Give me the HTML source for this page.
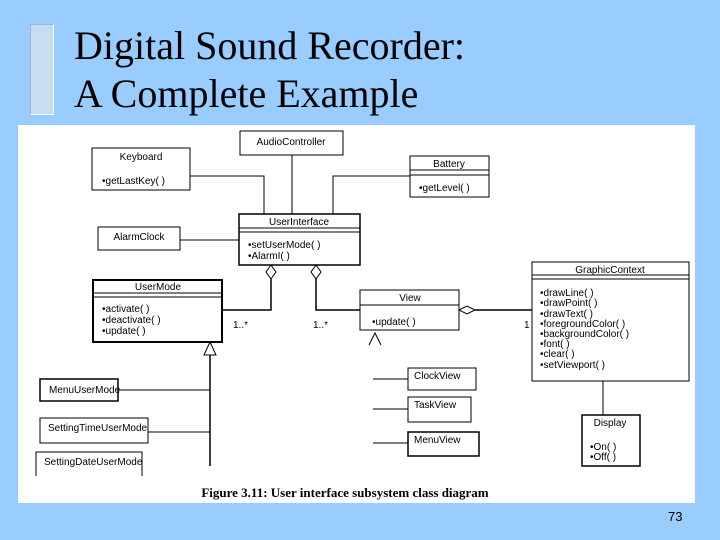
<!DOCTYPE html>
<html><head><meta charset="utf-8"><style>
body{margin:0;width:720px;height:540px;background:#99ccff;overflow:hidden;position:relative;font-family:"Liberation Sans",sans-serif}
.t{position:absolute;left:74px;font-family:"Liberation Serif",serif;font-size:40px;color:#000;line-height:48px;white-space:nowrap}
</style></head><body>
<div style="position:absolute;left:30px;top:24px;width:22px;height:89px;background:#c6ddf3;border:1px solid #9fb4cc;border-bottom-color:#fff;border-right-color:#fff"></div>
<div class="t" style="top:22px">Digital Sound Recorder:</div>
<div class="t" style="top:70px">A Complete Example</div>
<svg style="position:absolute;left:0;top:0" width="720" height="540" font-family="Liberation Sans, sans-serif" font-size="10">
<rect x="18" y="125" width="677" height="378" fill="#fff"/>
<g fill="none" stroke="#000" stroke-width="1">
<rect x="240" y="131" width="103" height="24"/>
<rect x="92" y="148" width="98" height="42"/>
<rect x="410" y="156" width="79" height="41"/><line x1="410" y1="170" x2="489" y2="170"/><line x1="410" y1="175" x2="489" y2="175"/>
<rect x="239" y="214" width="121" height="51" stroke-width="1.5"/><line x1="239" y1="228" x2="360" y2="228"/><line x1="239" y1="232" x2="360" y2="232"/>
<rect x="98" y="227" width="82" height="23"/>
<polyline points="190,176 264,176 264,214"/>
<line x1="292" y1="155" x2="292" y2="214"/>
<polyline points="410,176 333,176 333,214"/>
<line x1="180" y1="240" x2="239" y2="240"/>
<polygon points="271,265 276,272 271,279 266,272"/>
<polygon points="316,265 321,272 316,279 311,272"/>
<rect x="93" y="280" width="129" height="62" stroke-width="2"/><line x1="93" y1="293" x2="222" y2="293"/><line x1="93" y1="297" x2="222" y2="297"/>
<polyline points="222,310 271,310 271,279" stroke-width="1.5"/>
<polyline points="316,279 316,310 360,310" stroke-width="1.5"/>
<rect x="360" y="290" width="99" height="40"/><line x1="360" y1="305" x2="459" y2="305"/>
<polygon points="459,310 467,306 475,310 467,314"/>
<line x1="475" y1="310" x2="532" y2="310" stroke-width="1.5"/>
<rect x="532" y="262" width="157" height="119"/><line x1="532" y1="275" x2="689" y2="275"/><line x1="532" y1="279" x2="689" y2="279"/>
<polygon points="210,342 216,355 204,355"/>
<line x1="210" y1="355" x2="210" y2="466" stroke-width="1.5"/>
<rect x="40" y="379" width="78" height="22" stroke-width="1.5"/><line x1="118" y1="390" x2="210" y2="390"/>
<rect x="40" y="418" width="108" height="25"/><line x1="148" y1="432" x2="210" y2="432"/>
<polyline points="36,476 36,452 142,452 142,476"/>
<polyline points="369,345 375,333 381,345"/>
<rect x="408" y="368" width="68" height="22"/><line x1="373" y1="379" x2="408" y2="379"/>
<rect x="408" y="397" width="63" height="25"/><line x1="373" y1="409" x2="408" y2="409"/>
<rect x="408" y="432" width="71" height="24" stroke-width="1.5"/><line x1="373" y1="443" x2="408" y2="443"/>
<line x1="603" y1="381" x2="603" y2="415"/>
<rect x="582" y="415" width="58" height="51" stroke-width="1.5"/>
</g>
<g fill="#000">
<text x="291" y="145" text-anchor="middle">AudioController</text>
<text x="141" y="160" text-anchor="middle">Keyboard</text>
<text x="102" y="184">•getLastKey( )</text>
<text x="449" y="167" text-anchor="middle">Battery</text>
<text x="419" y="191">•getLevel( )</text>
<text x="299" y="225" text-anchor="middle">UserInterface</text>
<text x="248" y="248">•setUserMode( )</text>
<text x="248" y="259">•AlarmI( )</text>
<text x="139" y="240" text-anchor="middle">AlarmClock</text>
<text x="158" y="290" text-anchor="middle">UserMode</text>
<text x="102" y="312">•activate( )</text>
<text x="102" y="323">•deactivate( )</text>
<text x="102" y="334">•update( )</text>
<text x="233" y="328">1..*</text>
<text x="313" y="328">1..*</text>
<text x="410" y="301" text-anchor="middle">View</text>
<text x="372" y="325">•update( )</text>
<text x="524" y="328">1</text>
<text x="610" y="273" text-anchor="middle">GraphicContext</text>
<text x="540" y="296">•drawLine( )</text>
<text x="540" y="306">•drawPoint( )</text>
<text x="540" y="317">•drawText( )</text>
<text x="540" y="327">•foregroundColor( )</text>
<text x="540" y="337">•backgroundColor( )</text>
<text x="540" y="347">•font( )</text>
<text x="540" y="357">•clear( )</text>
<text x="540" y="368">•setViewport( )</text>
<text x="49" y="393">MenuUserMode</text>
<text x="48" y="431">SettingTimeUserMode</text>
<text x="44" y="465">SettingDateUserMode</text>
<text x="414" y="379">ClockView</text>
<text x="414" y="408">TaskView</text>
<text x="414" y="443">MenuView</text>
<text x="610" y="426" text-anchor="middle">Display</text>
<text x="590" y="450">•On( )</text>
<text x="590" y="460">•Off( )</text>
<text x="345" y="497" text-anchor="middle" font-family="Liberation Serif, serif" font-weight="bold" font-size="13">Figure 3.11: User interface subsystem class diagram</text>
<text x="668" y="521" font-size="13">73</text>
</g>
</svg>
</body></html>
